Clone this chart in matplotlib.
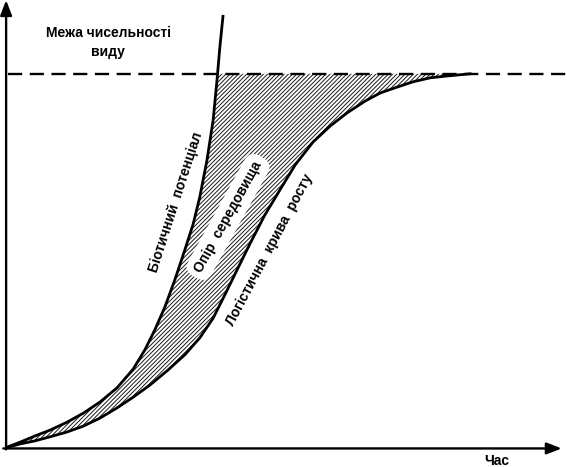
import numpy as np
import matplotlib
matplotlib.use("Agg")
import matplotlib.pyplot as plt

plt.rcParams['font.family'] = ['Liberation Sans', 'DejaVu Sans']
plt.rcParams['hatch.linewidth'] = 0.7

# час (умовні одиниці) і чисельність для кривої біотичного потенціалу
bio_t = [0.0, 2.7, 5.4, 8.1, 11.2, 14.1, 17.1, 20.2, 23.1, 25.2, 27.0, 28.8,
         30.6, 32.4, 33.9, 35.1, 36.4, 37.5, 38.2, 38.7, 39.3]
bio_n = [0.0, 1.3, 2.7, 4.0, 5.8, 7.8, 10.3, 13.5, 17.7, 22.0, 26.5, 31.6,
         37.7, 44.4, 50.2, 56.3, 64.6, 73.5, 82.5, 89.7, 97.1]

# логістична крива росту
log_t = [0.0, 2.7, 5.4, 8.1, 11.2, 14.1, 17.1, 20.2, 23.1, 26.1, 29.2, 32.4,
         35.1, 37.5, 39.6, 41.8, 44.1, 46.8, 49.5, 52.3, 55.5, 58.6, 61.6,
         64.9, 67.6, 70.6, 73.5, 76.6, 79.6, 83.8]
log_n = [0.0, 0.9, 1.6, 2.5, 3.6, 4.9, 6.7, 9.0, 11.4, 14.1, 17.3, 20.9,
         24.7, 29.1, 34.3, 39.9, 45.7, 52.2, 57.8, 63.5, 68.6, 72.2, 75.1,
         77.8, 79.6, 80.9, 82.1, 83.0, 83.4, 83.9]

K = 83.9  # межа чисельності виду

fig = plt.figure(figsize=(5.67, 4.67), dpi=100)
ax = fig.add_axes([5 / 567, 19 / 467, 555 / 567, 446 / 467])
ax.set_xlim(0, 100)
ax.set_ylim(0, 100)
ax.axis('off')

# заштрихована область "опір середовища"
bio_t_arr = np.array(bio_t)
bio_n_arr = np.array(bio_n)
keep = bio_n_arr < K
t_cross = np.interp(K, bio_n_arr, bio_t_arr)
poly_t = list(bio_t_arr[keep]) + [t_cross] + log_t[::-1]
poly_n = list(bio_n_arr[keep]) + [K] + log_n[::-1]
ax.fill(poly_t, poly_n, facecolor='white', edgecolor='#1a1a1a',
        hatch='////////', linewidth=0, zorder=1)

ax.plot(bio_t, bio_n, color='black', lw=2.0, zorder=3, solid_capstyle='butt',
        solid_joinstyle='round')
ax.plot(log_t, log_n, color='black', lw=2.0, zorder=3, solid_joinstyle='round')

ax.plot([0.5, 101.2], [K, K], color='black', lw=1.7, dashes=(6, 3.2),
        clip_on=False, zorder=2)

# осі зі стрілками
arrow = dict(arrowstyle='-|>,head_length=0.9,head_width=0.35', color='black',
             lw=1.7, shrinkA=0, shrinkB=0)
ax.annotate('', xy=(0.2, 100.4), xytext=(0.2, -0.3), arrowprops=arrow,
            annotation_clip=False)
ax.annotate('', xy=(100.3, -0.1), xytext=(-0.3, -0.1), arrowprops=arrow,
            annotation_clip=False)

ax.text(18.6, 91.0, 'Межа чисельності\nвиду', ha='center', va='center',
        fontsize=10, fontweight='bold', linespacing=1.45)
ax.text(88.6, -2.9, 'Час', ha='center', va='center', fontsize=10,
        fontweight='bold', clip_on=False)

ax.text(30.8, 55.2, 'Біотичний  потенціал', rotation=72, ha='center',
        va='center', fontsize=10, fontweight='bold', rotation_mode='anchor')
ax.text(40.2, 51.8, 'Опір  середовища', rotation=61, ha='center',
        va='center', fontsize=10, fontweight='bold', rotation_mode='anchor',
        zorder=2,
        bbox=dict(boxstyle='round,pad=0.45,rounding_size=0.8', fc='white',
                  ec='none'))
ax.text(47.6, 44.4, 'Логістична  крива  росту', rotation=62, ha='center',
        va='center', fontsize=10, fontweight='bold', rotation_mode='anchor')

fig.savefig('out.png', dpi=100)
